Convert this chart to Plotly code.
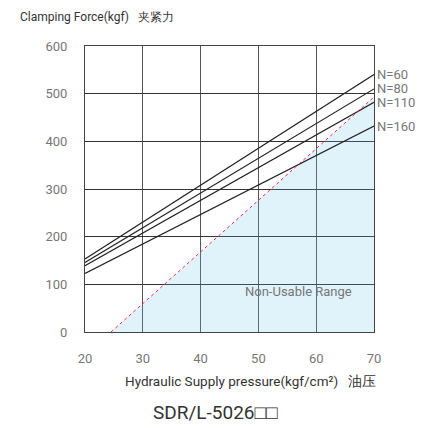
import plotly.graph_objects as go

pressure = [20, 70]
series_names = ["N=60", "N=80", "N=110", "N=160"]
force_at_20 = [153, 146, 139, 123]
force_at_70 = [540, 510, 482, 432]

limit_pressure = [24.5, 70]
limit_force = [0, 493]

x_ticks = [20, 30, 40, 50, 60, 70]
y_ticks = [0, 100, 200, 300, 400, 500, 600]

FONT = "Roboto, 'Liberation Sans Narrow', sans-serif"

fig = go.Figure()

# non-usable region (under the limit line)
fig.add_trace(go.Scatter(
    x=limit_pressure + [limit_pressure[-1]],
    y=limit_force + [0],
    fill="toself", fillcolor="rgba(100,190,230,0.2)",
    line=dict(width=0), mode="lines", hoverinfo="skip", showlegend=False))

for name, a, b in zip(series_names, force_at_20, force_at_70):
    fig.add_trace(go.Scatter(x=pressure, y=[a, b], mode="lines",
                             line=dict(color="#222222", width=1.2),
                             name=name, showlegend=False))

fig.add_trace(go.Scatter(x=limit_pressure, y=limit_force, mode="lines",
                         line=dict(color="#ff2244", width=1, dash="dot"),
                         showlegend=False))

annotations = []
for name, b in zip(series_names, force_at_70):
    annotations.append(dict(x=70, y=b, xref="x", yref="y", text=name,
                            showarrow=False, xanchor="left", xshift=1,
                            font=dict(family=FONT, size=13, color="#777777")))

annotations.append(dict(x=57, y=85, xref="x", yref="y", text="Non-Usable Range",
                        showarrow=False, font=dict(family=FONT, size=13, color="#777777")))
annotations.append(dict(x=-0.232, y=1.101, xref="paper", yref="paper",
                        text="Clamping Force(kgf)   夹紧力", showarrow=False,
                        xanchor="left", yanchor="middle",
                        font=dict(family=FONT, size=12, color="#333333")))
annotations.append(dict(x=0.571, y=-0.171, xref="paper", yref="paper",
                        text="Hydraulic Supply pressure(kgf/cm²)   油压", showarrow=False,
                        xanchor="center", yanchor="middle",
                        font=dict(family=FONT, size=13.5, color="#333333")))
annotations.append(dict(x=0.453, y=-0.28, xref="paper", yref="paper",
                        text="SDR/L-5026□□", showarrow=False,
                        xanchor="center", yanchor="middle",
                        font=dict(family=FONT, size=19, color="#333333")))

fig.update_layout(
    width=424, height=420,
    margin=dict(l=77, r=58, t=38, b=96),
    paper_bgcolor="white", plot_bgcolor="white",
    annotations=annotations,
    xaxis=dict(range=[20, 70], tickvals=x_ticks, showgrid=True,
               gridcolor="#555555", gridwidth=1, zeroline=False,
               showline=True, linecolor="#444444", linewidth=1, mirror=True,
               ticks="", ticklabelstandoff=14,
               tickfont=dict(family=FONT, size=13, color="#777777")),
    yaxis=dict(range=[0, 600], tickvals=y_ticks, showgrid=True,
               gridcolor="#333333", gridwidth=1, zeroline=False,
               showline=True, linecolor="#444444", linewidth=1, mirror=True,
               ticks="", ticklabelstandoff=14,
               tickfont=dict(family=FONT, size=13, color="#777777")),
)

fig.write_html("out.html")
